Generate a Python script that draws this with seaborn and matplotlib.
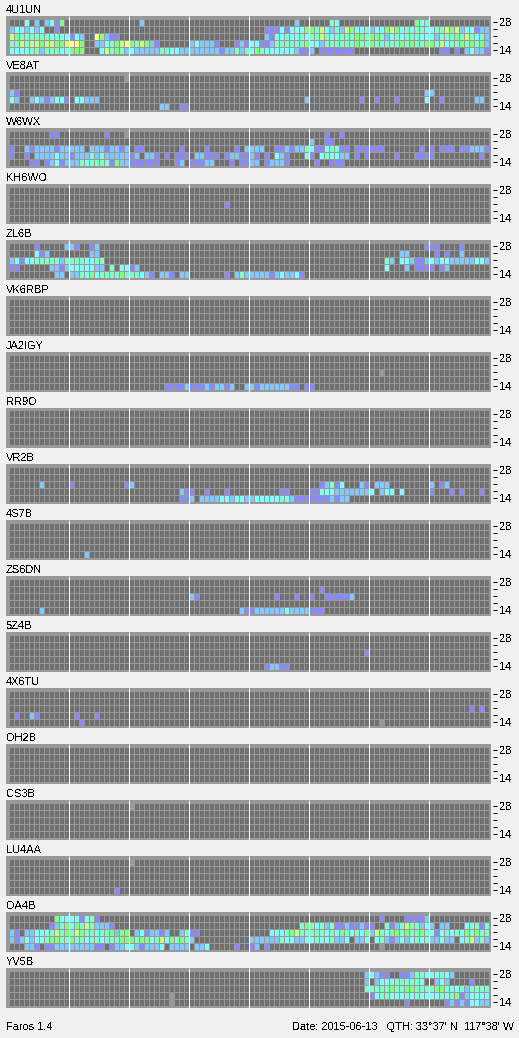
import numpy as np
import matplotlib
matplotlib.use("Agg")
import matplotlib.pyplot as plt
from matplotlib.colors import ListedColormap
from matplotlib.patches import Rectangle
import seaborn as sns

# one row per band (28 at the top, 14 at the bottom), 96 slots per row, in groups of 12
# 0 no signal, 1-7 signal level, 8 missing slot
EMPTY = " ".join(["000000000000"] * 8)

U1UN = [
    "000302023150 000000000000 002000000000 000000000000 000000000200 000043000000 000000000534 000000000000",
    "233232300100 000000000000 000000000000 000000000000 000111313335 546324265334 233565343443 344656233122",
    "654444443433 132007521100 000000000000 000000000000 000213343343 446434444554 554234344433 324445464342",
    "446466566556 775002234567 546521000000 232221000121 331124444445 332444444544 544444545445 546344545452",
    "333344244433 555000364542 322222443322 222222122424 354333333211 201111111000 000000000000 001101023221",
]
VE8AT = [
    "000000000000 000000000008 000000000000 000000000000 000000000000 000000000000 000000000000 000000000000",
    EMPTY,
    "210000000000 000000000000 000000000000 000000000000 000000000000 000000000000 000000000002 200000000000",
    "320023212331 033222000000 000000000000 000000000000 000000000002 000000000010 010001000003 001000000220",
    "000000000000 000000000000 000000220011 000000000000 000000000000 000000000000 000000000000 000000000000",
]
W6WX = [
    "000000001100 000000010008 000000000000 000000000000 000000000000 000100100000 000000000000 000000000000",
    "000000000000 000000000000 000000000000 000000000000 000000000000 200110000000 000000000000 000000000000",
    "100212222122 222022212212 011000000010 000100000102 222001121224 311344110111 111000000010 101110112221",
    "100102222322 122242422222 120221010111 022111012211 210103210004 103433220101 000001000111 100000000010",
    "000011012312 224344441522 111111000120 111220001011 220122210000 010011100000 000000000000 000000000000",
]
KH6WO = [
    EMPTY,
    EMPTY,
    "000000000000 000000000000 000000000000 000000010000 000000000000 000000000000 000000000000 000000000000",
    EMPTY,
    EMPTY,
]
ZL6B = [
    "000001000002 210012000000 000000000000 000000000000 000000000000 000000000000 000000000001 110000100000",
    "000003120000 000022000000 000000000000 000000000000 000000000000 000000000000 000000220000 010100200000",
    "231334444424 444334400000 000000000000 000000000000 000000000000 000000000000 000420332112 323322222332",
    "110000002212 333332204033 120000000000 000000000000 000000000000 000000000000 000300020111 101200000000",
    "000000000220 224353444454 443210221022 000000010242 222212322310 000000000000 000000000000 000000000000",
]
VK6RBP = [EMPTY] * 5
JA2IGY = [
    EMPTY,
    EMPTY,
    "000000000000 000000000000 000000000000 000000000000 000000000000 000000000000 008000000000 000000000000",
    EMPTY,
    "000000000000 000000000000 000000011112 111212212002 212222221101 100000000000 000000000000 000000000000",
]
RR9O = [EMPTY] * 5
VR2B = [
    EMPTY,
    EMPTY,
    "000000200000 100000000001 200000000000 000000000000 000000000000 001241300021 022200000000 201200000000",
    "000000000000 000000000000 000000000021 100100010000 000000110000 113332222222 302330300000 100010100010",
    "000000000000 000000000000 000000000011 202222332332 233333432111 111121220000 000000000000 000000000000",
]
S7B = [
    EMPTY,
    EMPTY,
    EMPTY,
    EMPTY,
    "000000000000 000200000000 000000000000 000000000000 000000000000 000000000000 000000000000 000000000000",
]
ZS6DN = [
    EMPTY,
    "000000000000 000000000000 000000000000 000000000000 000000000000 001000000000 000000000000 000000000000",
    "000000000000 000000000000 000000000000 210000000000 000001000100 100111112000 000000000000 000000000000",
    EMPTY,
    "000000200000 000000000000 000000000000 000000000021 122222232222 111000000000 000000000000 000000000000",
]
Z4B = [
    EMPTY,
    EMPTY,
    "000000000000 000000000000 000000000000 000000000000 000000000000 000000000001 000000000000 000000000000",
    EMPTY,
    "000000000000 000000000000 000000000000 000000000000 000122110000 000000000000 000000000000 000000000000",
]
X6TU = [
    EMPTY,
    EMPTY,
    "000000000000 000000000000 000000000000 000000000000 000000000000 000000000000 000000000000 000000001010",
    "010021000000 010001000000 000000000000 000000000000 000000000000 000000000000 000000000000 000000000000",
    "000000000000 001000000000 000000000000 000000000000 000000000000 000000000000 008000000000 000000000000",
]
OH2B = [EMPTY] * 5
CS3B = [
    "000000000000 000000000000 800000000000 000000000000 000000000000 000000000000 000000000000 000000000000",
    EMPTY,
    EMPTY,
    EMPTY,
    EMPTY,
]
LU4AA = [
    "000000000000 000000000000 800000000000 000000000000 000000000000 000000000000 000000000000 000000000000",
    EMPTY,
    EMPTY,
    EMPTY,
    "000000000000 000000000100 000000000000 000000000000 000000000000 000000000000 000000000000 000000000000",
]
OA4B = [
    "000000000533 331341000000 000000000000 000000000000 000000000000 000000000000 001000011112 000000000000",
    "000000001245 354642221000 000000000000 000000000000 000000000045 434241121121 100412464423 202200034414",
    "210223334645 465443445255 023122120024 110000000000 000033345644 444343543435 264355454454 313434354544",
    "212323345544 544344344455 545534635454 200000000000 222222433223 343342230223 034212323434 223220346242",
    "000221011222 222221101223 321222302222 022300000100 120100000000 000000000000 008000000000 000000000000",
]
YV5B = [
    "000000000000 000000000000 000000000000 000000000000 000000000000 000000000002 321100112443 334320000000",
    "000000000000 000000000000 000000000000 000000000000 000000000000 000000000002 023334434430 023200001000",
    "000000000000 000000000000 000000000000 000000000000 000000000000 000000000004 444454455444 455433424444",
    "000000000000 000000000000 000000008000 000000000000 000000000000 000000000000 134433343433 334345123333",
    "000000000000 000000000000 000000008000 000000000000 000000000000 000000000000 000000010000 000121213322",
]

STATIONS = ["4U1UN", "VE8AT", "W6WX", "KH6WO", "ZL6B", "VK6RBP", "JA2IGY", "RR9O", "VR2B",
            "4S7B", "ZS6DN", "5Z4B", "4X6TU", "OH2B", "CS3B", "LU4AA", "OA4B", "YV5B"]
GRIDS = [U1UN, VE8AT, W6WX, KH6WO, ZL6B, VK6RBP, JA2IGY, RR9O, VR2B,
         S7B, ZS6DN, Z4B, X6TU, OH2B, CS3B, LU4AA, OA4B, YV5B]
BAND_LABELS = ["28", "", "", "", "14"]
LEVEL_COLORS = ["#707070", "#8888ff", "#80c8ff", "#80ffff", "#80ffc8",
                "#80ff80", "#c8ff80", "#ffff80", "#999999"]

W, H = 519, 1038
BG = "#f0f0f0"
FRAME = "#999999"

sns.set_theme(style="white")
plt.rcParams["font.family"] = ["Liberation Sans", "DejaVu Sans"]
plt.rcParams["text.antialiased"] = False
plt.rcParams["text.hinting"] = "native"
FONT = 11 * 0.72

fig = plt.figure(figsize=(W / 100, H / 100), dpi=100, facecolor=BG)
cmap = ListedColormap(LEVEL_COLORS)

for n, (name, rows) in enumerate(zip(STATIONS, GRIDS)):
    top = 16 + 56 * n
    grid = np.array([[int(c) for c in r.replace(" ", "")] for r in rows])
    assert grid.shape == (5, 96), name

    # frame of the panel, behind the axes
    fig.add_artist(Rectangle((6 / W, 1 - (top + 40) / H), 485 / W, 40 / H,
                             transform=fig.transFigure, facecolor=FRAME, edgecolor="none",
                             zorder=-1))
    # axes run a bit past the frame on the right so that the ticks stand off it
    ax = fig.add_axes([6 / W, 1 - (top + 40) / H, 487 / W, 40 / H])
    sns.heatmap(grid, ax=ax, cmap=cmap, vmin=-0.5, vmax=8.5, cbar=False,
                linewidths=0.72, linecolor=FRAME,
                xticklabels=False, yticklabels=BAND_LABELS)
    ax.patch.set_visible(False)
    ax.set_xlim(-2.5 / 5, (493 - 8.5) / 5)
    ax.set_ylim(37.5 / 7, -2.5 / 7)
    for h in range(12, 96, 12):
        ax.plot([h, h], [-2.5 / 7, 37.5 / 7], color="white", lw=0.72, solid_capstyle="butt")
    ax.yaxis.tick_right()
    ax.tick_params(axis="y", right=True, left=False, length=2.88, width=0.72, color="black",
                   pad=1.6, labelsize=FONT, labelcolor="black", labelrotation=0)
    ax.tick_params(axis="x", bottom=False)
    for s in ax.spines.values():
        s.set_visible(False)
    fig.text(6 / W, 1 - (top - 3) / H, name, fontsize=FONT, color="black", va="baseline")

fig.text(6 / W, 1 - 1030 / H, "Faros 1.4", fontsize=FONT, color="black", va="baseline")
fig.text(292 / W, 1 - 1030 / H, "Date: 2015-06-13   QTH: 33°37' N  117°38' W",
         fontsize=FONT, color="black", va="baseline", ha="left")

fig.savefig("out.png", dpi=100, facecolor=BG)
